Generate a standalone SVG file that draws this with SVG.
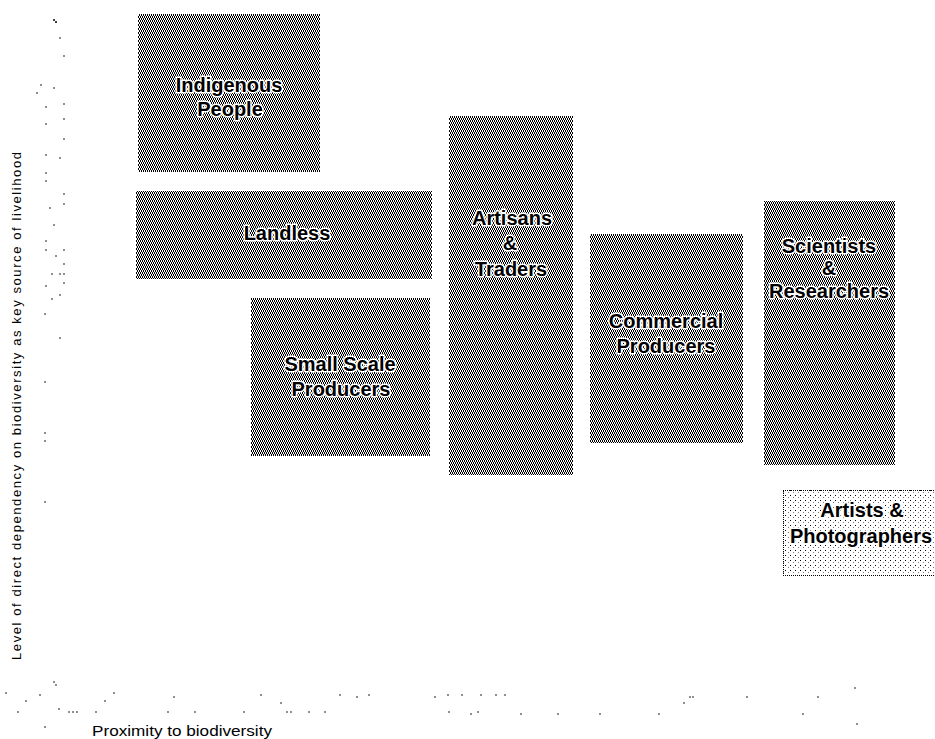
<svg xmlns="http://www.w3.org/2000/svg" width="935" height="739" viewBox="0 0 935 739">
<style>
.box{fill:url(#dither);shape-rendering:crispEdges}
.lbl{font-family:"Liberation Sans",Arial,sans-serif;font-weight:bold;font-size:20px;fill:#000;text-anchor:middle;stroke:#fff;stroke-width:3px;stroke-linejoin:round;paint-order:stroke}
.axis{font-family:"Liberation Sans",Arial,sans-serif;fill:#000}
.dots circle{fill:#000}
</style>
<defs>
<pattern id="dither" width="2" height="4" patternUnits="userSpaceOnUse">
<rect width="2" height="4" fill="#fff"/>
<rect x="0" y="0" width="1" height="2" fill="#000"/>
<rect x="1" y="2" width="1" height="2" fill="#000"/>
</pattern>
<pattern id="sparse" width="5" height="5" patternUnits="userSpaceOnUse">
<rect width="5" height="5" fill="#fff"/>
<rect x="0" y="0" width="1" height="1" fill="#000"/>
<rect x="3" y="2" width="1" height="1" fill="#777"/>
</pattern>
</defs>
<rect width="935" height="739" fill="#fff"/>

<g id="connectors">
<g class="dots" id="y-axis">
<circle cx="54" cy="20" r="1"/><circle cx="56" cy="22" r="1"/><circle cx="60" cy="38" r="0.8"/><circle cx="64" cy="56" r="0.8"/>
<circle cx="37" cy="93" r="0.8"/><circle cx="41" cy="85" r="0.8"/><circle cx="54" cy="88" r="0.8"/><circle cx="46" cy="107" r="0.8"/>
<circle cx="64" cy="104" r="0.8"/><circle cx="64" cy="119" r="0.8"/><circle cx="46" cy="124" r="0.8"/><circle cx="64" cy="139" r="0.8"/>
<circle cx="46" cy="155" r="0.8"/><circle cx="60" cy="158" r="0.8"/><circle cx="46" cy="173" r="0.8"/><circle cx="46" cy="181" r="0.8"/>
<circle cx="64" cy="194" r="0.8"/><circle cx="64" cy="204" r="0.8"/><circle cx="50" cy="208" r="0.8"/><circle cx="54" cy="225" r="0.8"/>
<circle cx="46" cy="241" r="0.8"/><circle cx="46" cy="250" r="0.8"/><circle cx="64" cy="250" r="0.8"/><circle cx="56" cy="256" r="0.8"/>
<circle cx="64" cy="264" r="0.8"/><circle cx="64" cy="274" r="0.8"/><circle cx="52" cy="274" r="0.8"/><circle cx="60" cy="274" r="0.8"/>
<circle cx="46" cy="286" r="0.8"/><circle cx="64" cy="283" r="0.8"/><circle cx="52" cy="299" r="0.8"/><circle cx="60" cy="295" r="0.8"/>
<circle cx="45" cy="314" r="0.8"/><circle cx="60" cy="338" r="0.8"/><circle cx="45" cy="382" r="0.8"/><circle cx="45" cy="433" r="0.8"/>
<circle cx="45" cy="441" r="0.8"/><circle cx="45" cy="502" r="0.8"/>
</g>
<g class="dots" id="x-axis">
<circle cx="6" cy="693" r="0.8"/><circle cx="54" cy="682" r="0.8"/><circle cx="56" cy="685" r="0.8"/><circle cx="40" cy="695" r="0.8"/>
<circle cx="26" cy="701" r="0.8"/><circle cx="18" cy="712" r="0.8"/><circle cx="59" cy="709" r="0.8"/><circle cx="69" cy="712" r="0.8"/>
<circle cx="73" cy="712" r="0.8"/><circle cx="77" cy="712" r="0.8"/><circle cx="96" cy="712" r="0.8"/><circle cx="105" cy="701" r="0.8"/>
<circle cx="114" cy="693" r="0.8"/><circle cx="45" cy="727" r="0.8"/><circle cx="174" cy="697" r="0.8"/><circle cx="168" cy="712" r="0.8"/>
<circle cx="195" cy="712" r="0.8"/><circle cx="244" cy="712" r="0.8"/><circle cx="261" cy="695" r="0.8"/><circle cx="281" cy="703" r="0.8"/>
<circle cx="287" cy="712" r="0.8"/><circle cx="291" cy="712" r="0.8"/><circle cx="309" cy="712" r="0.8"/><circle cx="325" cy="712" r="0.8"/>
<circle cx="340" cy="695" r="0.8"/><circle cx="357" cy="697" r="0.8"/><circle cx="369" cy="695" r="0.8"/><circle cx="435" cy="697" r="0.8"/>
<circle cx="448" cy="695" r="0.8"/><circle cx="449" cy="712" r="0.8"/><circle cx="462" cy="695" r="0.8"/><circle cx="471" cy="714" r="0.8"/>
<circle cx="478" cy="712" r="0.8"/><circle cx="481" cy="695" r="0.8"/><circle cx="496" cy="695" r="0.8"/><circle cx="505" cy="695" r="0.8"/>
<circle cx="521" cy="714" r="0.8"/><circle cx="558" cy="714" r="0.8"/><circle cx="600" cy="714" r="0.8"/><circle cx="659" cy="714" r="0.8"/>
<circle cx="684" cy="703" r="0.8"/><circle cx="690" cy="697" r="0.8"/><circle cx="693" cy="697" r="0.8"/><circle cx="747" cy="697" r="0.8"/>
<circle cx="803" cy="714" r="0.8"/><circle cx="818" cy="697" r="0.8"/><circle cx="855" cy="688" r="0.8"/><circle cx="857" cy="724" r="0.8"/>
</g>
<text class="axis" font-size="13" transform="translate(21,660) rotate(-90)" textLength="508" lengthAdjust="spacing">Level of direct dependency on biodiversity as key source of livelihood</text>
<text class="axis" font-size="14" x="92" y="736" textLength="180" lengthAdjust="spacingAndGlyphs">Proximity to biodiversity</text>
</g>

<g id="indigenous-people">
<rect class="box" x="138" y="14" width="182" height="158"/>
<text class="lbl" x="229" y="92">Indigenous</text>
<text class="lbl" x="230" y="116">People</text>
</g>
<g id="landless">
<rect class="box" x="136" y="191" width="296" height="88"/>
<text class="lbl" x="287" y="240">Landless</text>
</g>
<g id="small-scale-producers">
<rect class="box" x="251" y="298" width="179" height="158"/>
<text class="lbl" x="340" y="371">Small Scale</text>
<text class="lbl" x="341" y="396">Producers</text>
</g>
<g id="artisans-traders">
<rect class="box" x="449" y="116" width="124" height="359"/>
<text class="lbl" x="512" y="225">Artisans</text>
<text class="lbl" x="510" y="250">&amp;</text>
<text class="lbl" x="511" y="276">Traders</text>
</g>
<g id="commercial-producers">
<rect class="box" x="590" y="234" width="153" height="209"/>
<text class="lbl" x="666" y="328">Commercial</text>
<text class="lbl" x="666" y="353">Producers</text>
</g>
<g id="scientists-researchers">
<rect class="box" x="764" y="201" width="131" height="264"/>
<text class="lbl" x="829" y="253">Scientists</text>
<text class="lbl" x="829" y="275">&amp;</text>
<text class="lbl" x="829" y="298">Researchers</text>
</g>
<g id="artists-photographers">
<rect x="783" y="490" width="160" height="85" fill="url(#sparse)" stroke="#000" stroke-width="1" stroke-dasharray="1 1" shape-rendering="crispEdges"/>
<text class="lbl" x="862" y="517">Artists &amp;</text>
<text class="lbl" x="861" y="543">Photographers</text>
</g>
</svg>
